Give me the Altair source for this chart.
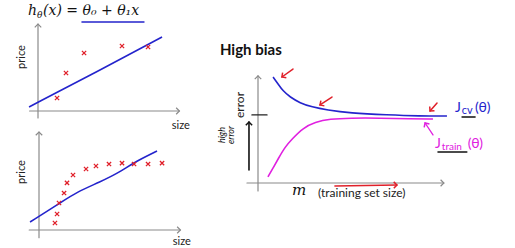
import math
import altair as alt
import pandas as pd

# ---------------- data (each panel in its own units, 0..10 on both axes) ----------------
# Panel A: few points, straight-line fit
a_size = [1.36, 2.0, 3.29, 6.0, 7.86]
a_price = [1.51, 4.42, 6.74, 7.56, 7.44]
a_fit_size = [-0.64, 4.43, 8.86]
a_fit_price = [0.47, 4.75, 8.6]

# Panel B: many points, straight-line fit
b_size = [1.14, 1.29, 1.43, 1.79, 2.0, 2.43, 3.36, 4.07, 5.0, 5.93, 6.79, 7.79, 8.79]
b_price = [0.72, 1.65, 2.78, 3.81, 4.85, 5.67, 6.29, 6.6, 6.8, 6.9, 6.8, 6.8, 6.9]
b_fit_size = [-0.64, 1.5, 2.71, 4.36, 5.79, 6.71, 8.43]
b_fit_price = [0.82, 2.78, 3.92, 4.95, 5.98, 6.91, 8.14]

# Panel C: learning curves (high bias)
cv_m = [0.82, 1.09, 1.36, 1.74, 2.28, 2.93, 3.75, 5.0, 7.01, 8.8, 10.27]
cv_err = [10.0, 9.34, 8.68, 8.11, 7.55, 7.17, 6.89, 6.6, 6.42, 6.32, 6.32]
tr_m = [0.54, 0.82, 1.09, 1.47, 1.85, 2.45, 3.1, 3.91, 5.0, 6.63, 8.26, 9.51]
tr_err = [0.57, 1.42, 2.26, 3.4, 4.15, 5.19, 5.75, 6.04, 6.13, 6.13, 6.04, 6.04]
err_level = 6.42

# annotation arrows in panel C: (tail_x, tail_y, tip_x, tip_y, kind)
c_arrows = [
    (1.9, 10.75, 1.3, 10.0, "red"),
    (4.02, 8.11, 3.37, 7.36, "red"),
    (9.73, 7.55, 9.35, 6.79, "red"),
    (4.18, -0.28, 7.55, -0.19, "red"),
    (9.51, 4.53, 9.08, 5.66, "magenta"),
    (-0.49, 1.23, -0.49, 5.75, "black"),
]

# ---------------- layout / style ----------------
PANELS = {
    "A": ((38, 178), (111, 25)),
    "B": ((39, 179), (230, 133)),
    "C": ((258, 442), (183, 77)),
}
DOMAIN = [0, 10]
AXIS_GREY = "#8a8a8a"
BLUE = "#2424cc"
MAGENTA = "#e020e0"
RED = "#e0202a"
INK = "#111111"
KIND_COLOR = {"red": RED, "magenta": MAGENTA, "black": INK}
SANS = "Lato"
SERIF = "DejaVu Serif"
CHEVRON = "M-1,1L0,0L1,1"
XMARK = "M-1,-1L1,1M-1,1L1,-1"


def scales(p):
    xr, yr = PANELS[p]
    return (alt.Scale(domain=DOMAIN, range=list(xr), nice=False, zero=False),
            alt.Scale(domain=DOMAIN, range=list(yr), nice=False, zero=False))


def xy(p):
    sx, sy = scales(p)
    return dict(x=alt.X("x:Q", scale=sx, axis=None), y=alt.Y("y:Q", scale=sy, axis=None))


def segs(p, rows, color, width=1.2):
    df = pd.DataFrame(rows, columns=["x", "y", "x2", "y2"])
    return alt.Chart(df).mark_rule(color=color, strokeWidth=width, strokeCap="round").encode(
        **xy(p), x2="x2:Q", y2="y2:Q")


def heads(p, rows, size=40, width=1.3):
    """rows: (tail_x, tail_y, tip_x, tip_y, colour) -> chevron at tip."""
    xr, yr = PANELS[p]
    kx = (xr[1] - xr[0]) / (DOMAIN[1] - DOMAIN[0])
    ky = (yr[1] - yr[0]) / (DOMAIN[1] - DOMAIN[0])
    recs = []
    for tx, ty, hx, hy, c in rows:
        dx = (hx - tx) * kx
        dy = (hy - ty) * ky
        ang = math.degrees(math.atan2(dx, -dy)) % 360
        recs.append({"x": hx, "y": hy, "angle": ang, "c": c})
    df = pd.DataFrame(recs)
    return alt.Chart(df).mark_point(shape=CHEVRON, filled=False, size=size, strokeWidth=width,
                                    opacity=1).encode(
        **xy(p), angle=alt.Angle("angle:Q", scale=None), color=alt.Color("c:N", scale=None))


def line(p, xs, ys, color, width=1.6, interp="linear"):
    df = pd.DataFrame({"x": xs, "y": ys, "i": range(len(xs))})
    return alt.Chart(df).mark_line(color=color, strokeWidth=width, interpolate=interp).encode(
        **xy(p), order="i:O")


def crosses(p, xs, ys):
    df = pd.DataFrame({"x": xs, "y": ys})
    return alt.Chart(df).mark_point(shape=XMARK, filled=False, size=18, strokeWidth=1.3,
                                    color=RED, opacity=1).encode(**xy(p))


def texts(p, rows, **props):
    df = pd.DataFrame(rows, columns=["x", "y", "t"])
    return alt.Chart(df).mark_text(**props).encode(**xy(p), text="t:N")


def axes(p, xl, yl):
    return [
        segs(p, [(xl, 0, 10.1, 0), (0, yl, 0, 10.1)], AXIS_GREY, 1.2),
        heads(p, [(0, 0, 10.1, 0, AXIS_GREY), (0, 0, 0, 10.1, AXIS_GREY)], size=42, width=1.2),
    ]


layers = []
# ---- panel A ----
layers += axes("A", -0.6, -0.8)
layers.append(line("A", a_fit_size, a_fit_price, BLUE, 1.6, "basis"))
layers.append(crosses("A", a_size, a_price))
layers.append(segs("A", [(3.14, 10.35, 7.57, 10.35)], BLUE, 1.4))
layers.append(texts("A", [(-1.14, 6.28, "price")], font=SANS, fontSize=11, angle=270,
                    align="center", baseline="middle", color="#222"))
layers.append(texts("A", [(10.2, -1.74, "size")], font=SANS, fontSize=11,
                    align="center", baseline="middle", color="#222"))
layers.append(texts("A", [(-0.71, 11.16, "h"), (0.36, 11.16, "(x) = θ₀ + θ₁x")], font=SERIF,
                    fontSize=14, fontStyle="italic", align="left", baseline="alphabetic",
                    color=INK))
layers.append(texts("A", [(-0.07, 10.81, "θ")], font=SERIF, fontSize=9, fontStyle="italic",
                    align="left", baseline="alphabetic", color=INK))

# ---- panel B ----
layers += axes("B", -0.7, -0.8)
layers.append(line("B", b_fit_size, b_fit_price, BLUE, 1.6, "basis"))
layers.append(crosses("B", b_size, b_price))
layers.append(texts("B", [(-1.21, 5.98, "price")], font=SANS, fontSize=11, angle=270,
                    align="center", baseline="middle", color="#222"))
layers.append(texts("B", [(10.2, -1.24, "size")], font=SANS, fontSize=11,
                    align="center", baseline="middle", color="#222"))

# ---- panel C ----
layers += axes("C", -0.6, -0.75)
layers.append(segs("C", [(-0.33, err_level, 0.49, err_level)], "#222", 1.3))
layers.append(line("C", cv_m, cv_err, BLUE, 1.6, "basis"))
layers.append(line("C", tr_m, tr_err, MAGENTA, 1.6, "basis"))
for kind, w in (("red", 1.5), ("magenta", 1.3), ("black", 1.6)):
    layers.append(segs("C", [a[:4] for a in c_arrows if a[4] == kind], KIND_COLOR[kind], w))
layers.append(heads("C", [a[:4] + (KIND_COLOR[a[4]],) for a in c_arrows], size=40, width=1.5))
layers.append(segs("C", [(11.09, 6.23, 11.8, 6.23), (9.78, 2.92, 11.35, 2.92)], INK, 1.4))
layers.append(texts("C", [(-2.07, 12.08, "High bias")], font=SANS, fontSize=15,
                    fontWeight="bold", align="left", baseline="alphabetic", color=INK))
layers.append(texts("C", [(-0.98, 7.36, "error")], font=SANS, fontSize=12, angle=270,
                    align="center", baseline="middle", color="#222"))
layers.append(texts("C", [(-1.96, 4.53, "high"), (-1.47, 4.53, "error")], font=SANS,
                    fontSize=9, fontStyle="italic", angle=270, align="center",
                    baseline="middle", color=INK))
layers.append(texts("C", [(1.85, -1.13, "m")], font=SERIF, fontSize=15, fontStyle="italic",
                    align="left", baseline="alphabetic", color=INK))
layers.append(texts("C", [(3.26, -1.32, "(training set size)")], font=SANS, fontSize=12,
                    align="left", baseline="alphabetic", color="#222"))
layers.append(texts("C", [(10.71, 6.7, "J"), (11.8, 6.7, "(θ)")], font=SANS, fontSize=14,
                    align="left", baseline="alphabetic", color=BLUE))
layers.append(texts("C", [(11.08, 6.5, "cv")], font=SANS, fontSize=11,
                    align="left", baseline="alphabetic", color=BLUE))
layers.append(texts("C", [(9.62, 3.3, "J"), (11.4, 3.3, "(θ)")], font=SANS, fontSize=14,
                    align="left", baseline="alphabetic", color=MAGENTA))
layers.append(texts("C", [(9.99, 3.1, "train")], font=SANS, fontSize=10,
                    align="left", baseline="alphabetic", color=MAGENTA))

chart = alt.layer(*layers).resolve_scale(x="independent", y="independent").properties(
    width=515, height=248, autosize=alt.AutoSizeParams(type="none"), padding=0,
    background="white",
).configure_view(stroke=None)

chart.save("out.html", embed_options={"renderer": "svg", "actions": False})
